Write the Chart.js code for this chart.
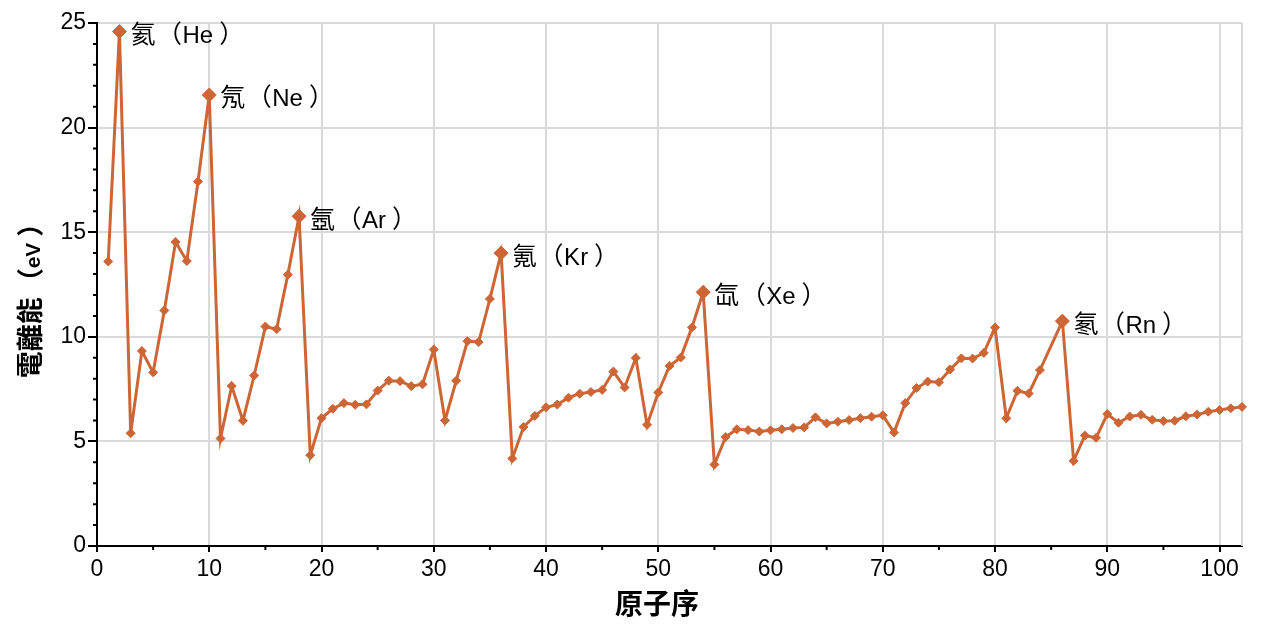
<!DOCTYPE html>
<html lang="zh-Hant">
<head>
<meta charset="UTF-8" />
<title>電離能</title>
<script src="https://cdn.jsdelivr.net/npm/chart.js@4"></script>
<style>
	html, body { margin: 0; padding: 0; background: #fff; }
	#wrap { width: 1268px; height: 634px; }
</style>
</head>
<body>
<div id="wrap"><canvas id="chart" width="1268" height="634"></canvas></div>
<script>
// atomic numbers that have a point (85 is missing in the original)
const atomicNumbers = [
	1, 2, 3, 4, 5, 6, 7, 8, 9, 10,
	11, 12, 13, 14, 15, 16, 17, 18, 19, 20,
	21, 22, 23, 24, 25, 26, 27, 28, 29, 30,
	31, 32, 33, 34, 35, 36, 37, 38, 39, 40,
	41, 42, 43, 44, 45, 46, 47, 48, 49, 50,
	51, 52, 53, 54, 55, 56, 57, 58, 59, 60,
	61, 62, 63, 64, 65, 66, 67, 68, 69, 70,
	71, 72, 73, 74, 75, 76, 77, 78, 79, 80,
	81, 82, 83, 84, 86, 87, 88, 89, 90,
	91, 92, 93, 94, 95, 96, 97, 98, 99, 100,
	101, 102
];

// first ionization energy, eV
const ionEnergy = [
	13.60, 24.59, 5.39, 9.32, 8.30, 11.26, 14.53, 13.62, 17.42, 21.56,
	5.14, 7.65, 5.99, 8.15, 10.49, 10.36, 12.97, 15.76, 4.34, 6.11,
	6.56, 6.83, 6.75, 6.77, 7.43, 7.90, 7.88, 7.64, 7.73, 9.39,
	6.00, 7.90, 9.79, 9.75, 11.81, 14.00, 4.18, 5.69, 6.22, 6.63,
	6.76, 7.09, 7.28, 7.36, 7.46, 8.34, 7.58, 8.99, 5.79, 7.34,
	8.61, 9.01, 10.45, 12.13, 3.89, 5.21, 5.58, 5.54, 5.47, 5.53,
	5.58, 5.64, 5.67, 6.15, 5.86, 5.94, 6.02, 6.11, 6.18, 6.25,
	5.43, 6.83, 7.55, 7.86, 7.83, 8.44, 8.97, 8.96, 9.23, 10.44,
	6.11, 7.42, 7.29, 8.41, 10.75, 4.07, 5.28, 5.17, 6.31,
	5.89, 6.19, 6.27, 6.03, 5.97, 5.99, 6.20, 6.28, 6.42, 6.50,
	6.58, 6.65
];

const nobleNumbers = [2, 10, 18, 36, 54, 86];
const nobleLabels = ['氦（He）', '氖（Ne）', '氬（Ar）', '氪（Kr）', '氙（Xe）', '氡（Rn）'];

const xTickValues = [0, 10, 20, 30, 40, 50, 60, 70, 80, 90, 100];
const yTickValues = [0, 5, 10, 15, 20, 25];

const xTitle = '原子序';
const yTitle = '電離能（eV）';

const LINE = '#cd6535';
const GRID = '#dadada';
const LATIN = '"Liberation Sans", Arial, sans-serif';
const CJK = '"Noto Sans CJK TC", sans-serif';

const points = atomicNumbers.map((n, i) => ({ x: n, y: ionEnergy[i] }));
const isNoble = ctx => nobleNumbers.includes(atomicNumbers[ctx.dataIndex]);

// lay out text char by char: CJK glyphs get a full em each, latin glyphs
// use the latin font; full-width brackets hug the latin text they enclose
function layoutMixed(ctx, text, cjkSize, latinSize, weight) {
	const glyphs = [];
	let cx = 0;
	for (const ch of text) {
		const cjk = ch.charCodeAt(0) > 255;
		ctx.font = weight + ' ' + (cjk ? cjkSize : latinSize) + 'px ' + (cjk ? CJK : LATIN);
		const m = ctx.measureText(ch);
		let gx = cx;
		let adv = m.width;
		if (ch === '（' || ch === '）') {
			const mid = (m.actualBoundingBoxRight - m.actualBoundingBoxLeft) / 2;
			const frac = ch === '（' ? 0.88 : 0.42;
			gx = cx + frac * cjkSize - mid;
			adv = ch === '（' ? cjkSize + 2 : cjkSize;
		} else if (cjk) {
			adv = Math.max(m.width, cjkSize);
		}
		glyphs.push({ ch, font: ctx.font, x: gx });
		cx += adv;
	}
	return { glyphs, total: cx };
}

function drawMixed(ctx, text, x, y, cjkSize, latinSize, weight, centered) {
	const { glyphs, total } = layoutMixed(ctx, text, cjkSize, latinSize, weight);
	const x0 = centered ? x - total / 2 : x;
	ctx.textAlign = 'left';
	ctx.textBaseline = 'alphabetic';
	glyphs.forEach(g => {
		ctx.font = g.font;
		ctx.fillText(g.ch, x0 + g.x, y);
	});
}

const frameLine = {
	id: 'frameLine',
	beforeDatasetsDraw(chart) {
		const { ctx, chartArea } = chart;
		ctx.save();
		ctx.strokeStyle = GRID;
		ctx.lineWidth = 2;
		ctx.beginPath();
		ctx.moveTo(chartArea.right, chartArea.top);
		ctx.lineTo(chartArea.right, chartArea.bottom);
		ctx.stroke();
		ctx.restore();
	}
};

const minorTicks = {
	id: 'minorTicks',
	afterDraw(chart) {
		const { ctx, chartArea, scales: { x, y } } = chart;
		ctx.save();
		ctx.strokeStyle = '#000';
		ctx.lineWidth = 2;
		ctx.beginPath();
		for (let v = 5; v < 102; v += 10) {
			const px = x.getPixelForValue(v);
			ctx.moveTo(px, chartArea.bottom);
			ctx.lineTo(px, chartArea.bottom + 4);
		}
		for (let v = 1; v < 25; v++) {
			if (v % 5 === 0) continue;
			const py = y.getPixelForValue(v);
			ctx.moveTo(chartArea.left - 4, py);
			ctx.lineTo(chartArea.left, py);
		}
		ctx.stroke();
		ctx.restore();
	}
};

const textLayer = {
	id: 'textLayer',
	afterDraw(chart) {
		const { ctx } = chart;
		const meta = chart.getDatasetMeta(0);
		ctx.save();
		ctx.fillStyle = '#000';

		nobleNumbers.forEach((n, k) => {
			const el = meta.data[atomicNumbers.indexOf(n)];
			drawMixed(ctx, nobleLabels[k], el.x + 11, el.y + 11.5, 25, 24, 'normal', false);
		});

		// axis titles
		drawMixed(ctx, xTitle, 657, 614, 28, 22, 'bold', true);

		ctx.save();
		ctx.translate(40, 297);
		ctx.rotate(-Math.PI / 2);
		drawMixed(ctx, yTitle, 0, 0, 27, 21, 'bold', true);
		ctx.restore();

		ctx.restore();
	}
};

new Chart(document.getElementById('chart'), {
	type: 'line',
	data: {
		datasets: [{
			data: points,
			borderColor: LINE,
			backgroundColor: LINE,
			borderWidth: 3,
			pointStyle: 'rectRot',
			pointRadius: ctx => isNoble(ctx) ? 7 : 4.5,
			pointBorderWidth: 1,
			pointBorderColor: LINE,
			pointBackgroundColor: LINE,
			tension: 0,
			clip: false
		}]
	},
	options: {
		responsive: false,
		animation: false,
		layout: { padding: { top: 23, right: 26, left: 0, bottom: 0 } },
		plugins: {
			legend: { display: false },
			tooltip: { enabled: false }
		},
		scales: {
			x: {
				type: 'linear',
				min: 0,
				max: 102,
				afterBuildTicks: scale => {
					scale.ticks = xTickValues.map(v => ({ value: v }));
				},
				afterFit: scale => { scale.height = 88; },
				ticks: {
					color: '#000',
					font: { family: LATIN, size: 23 },
					padding: 4,
					maxRotation: 0
				},
				grid: {
					color: GRID,
					lineWidth: 2,
					tickColor: '#000',
					tickWidth: 2,
					tickLength: 6
				},
				border: { color: '#000', width: 2 }
			},
			y: {
				min: 0,
				max: 25,
				afterBuildTicks: scale => {
					scale.ticks = yTickValues.map(v => ({ value: v }));
				},
				afterFit: scale => { scale.width = 97; },
				ticks: {
					color: '#000',
					font: { family: LATIN, size: 23 },
					padding: 2
				},
				grid: {
					color: GRID,
					lineWidth: 2,
					tickColor: '#000',
					tickWidth: 2,
					tickLength: 9
				},
				border: { color: '#000', width: 2 }
			}
		}
	},
	plugins: [frameLine, minorTicks, textLayer]
});
</script>
</body>
</html>
